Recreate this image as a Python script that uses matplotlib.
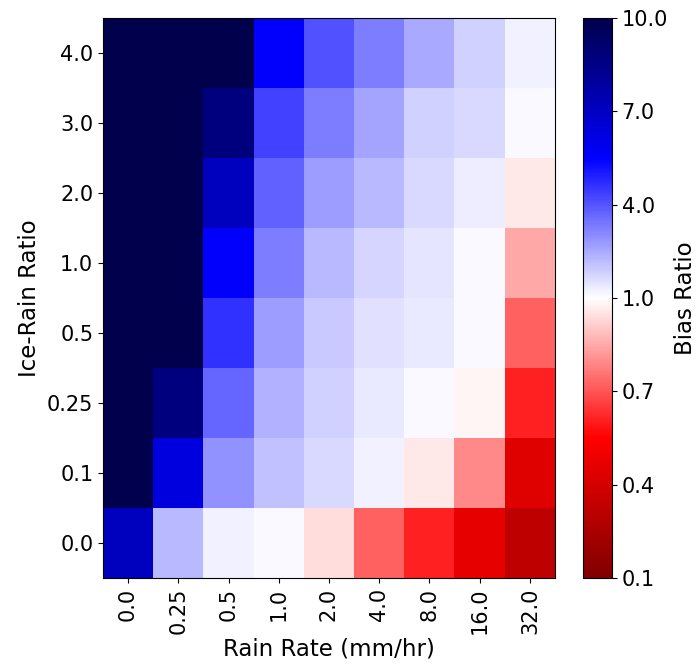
import numpy as np
import matplotlib
matplotlib.use("Agg")
import matplotlib.pyplot as plt
from matplotlib.colors import TwoSlopeNorm

rain_rates = ["0.0", "0.25", "0.5", "1.0", "2.0", "4.0", "8.0", "16.0", "32.0"]
ice_ratios = ["0.0", "0.1", "0.25", "0.5", "1.0", "2.0", "3.0", "4.0"]

# rows ordered bottom (0.0) to top (4.0)
row_00 = [7.1, 2.25, 1.26, 1.08, 0.94, 0.72, 0.61, 0.47, 0.33]
row_01 = [10.0, 6.3, 2.96, 2.11, 1.69, 1.26, 0.96, 0.79, 0.44]
row_025 = [10.0, 8.7, 3.74, 2.39, 1.83, 1.41, 1.1, 0.98, 0.61]
row_05 = [10.0, 10.0, 4.65, 2.75, 1.97, 1.55, 1.37, 1.1, 0.72]
row_10 = [10.0, 10.0, 5.5, 3.25, 2.25, 1.76, 1.48, 1.1, 0.85]
row_20 = [10.0, 10.0, 7.1, 3.81, 2.75, 2.25, 1.69, 1.34, 0.96]
row_30 = [10.0, 10.0, 8.7, 4.37, 3.25, 2.59, 1.78, 1.69, 1.12]
row_40 = [10.0, 10.0, 10.0, 5.5, 4.09, 3.25, 2.5, 1.83, 1.26]

data = np.array([row_00, row_01, row_025, row_05, row_10, row_20, row_30, row_40])

cbar_ticks = [0.1, 0.4, 0.7, 1.0, 4.0, 7.0, 10.0]

fig = plt.figure(figsize=(6.96, 6.69), dpi=100)
ax = fig.add_axes([103/696, 91/669, 452/696, 560/669])
cax = fig.add_axes([583/696, 91/669, 29/696, 560/669])

norm = TwoSlopeNorm(vmin=0.1, vcenter=1.0, vmax=10.0)
im = ax.imshow(data, cmap="seismic_r", norm=norm, origin="lower", aspect="auto",
               interpolation="nearest")

fs = 15
lfs = 16.5
ax.set_xticks(np.arange(len(rain_rates)))
ax.set_xticklabels(rain_rates, rotation=90, fontsize=fs)
ax.set_yticks(np.arange(len(ice_ratios)))
ax.set_yticklabels(ice_ratios, fontsize=fs)
ax.set_xlabel("Rain Rate (mm/hr)", fontsize=lfs, labelpad=2)
ax.set_ylabel("Ice-Rain Ratio", fontsize=lfs, labelpad=4)

cb = fig.colorbar(im, cax=cax, ticks=cbar_ticks)
cb.ax.set_yticklabels(["%.1f" % t for t in cbar_ticks], fontsize=fs)
cb.set_label("Bias Ratio", fontsize=lfs)

fig.savefig("out.png", dpi=100)
